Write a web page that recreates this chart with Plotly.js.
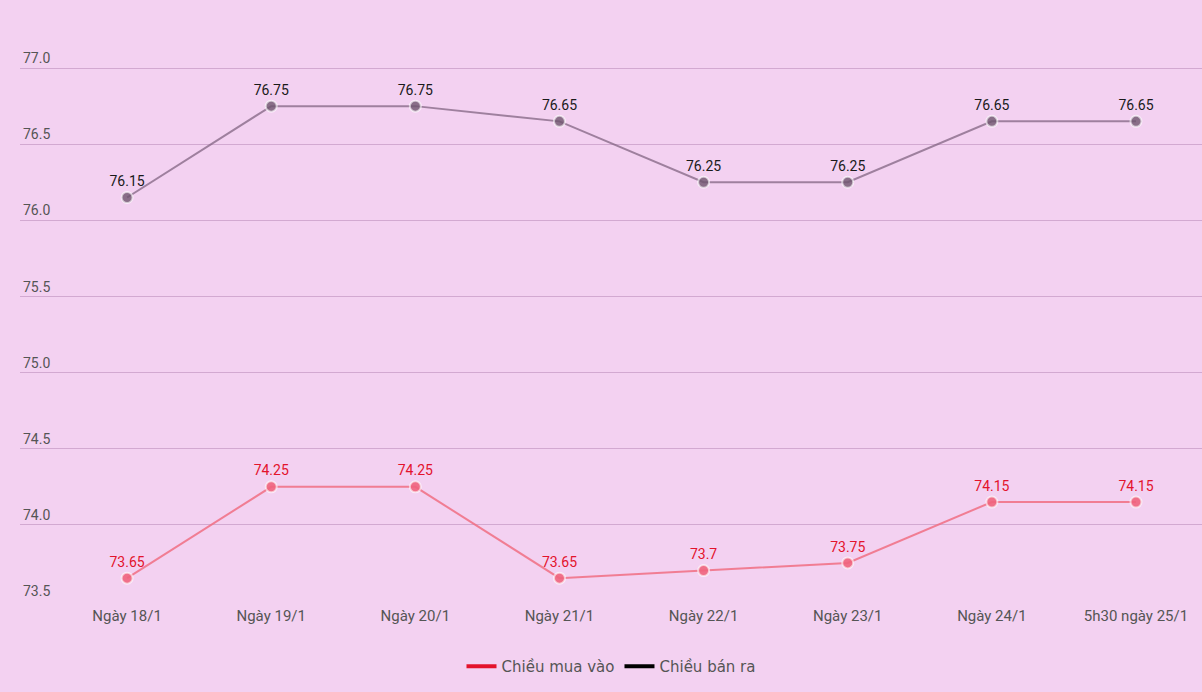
<!DOCTYPE html>
<html>
<head>
<meta charset="utf-8">
<script src="https://cdn.plot.ly/plotly-3.0.1.min.js"></script>
<style>html,body{margin:0;padding:0;background:#F3D1F1;}#chart{width:1202px;height:692px;}</style>
</head>
<body>
<div id="chart"></div>
<script>
const categories = ["Ngày 18/1", "Ngày 19/1", "Ngày 20/1", "Ngày 21/1", "Ngày 22/1", "Ngày 23/1", "Ngày 24/1", "5h30 ngày 25/1"];
const buyValues = [73.65, 74.25, 74.25, 73.65, 73.7, 73.75, 74.15, 74.15];
const sellValues = [76.15, 76.75, 76.75, 76.65, 76.25, 76.25, 76.65, 76.65];
const buyName = "Chiều mua vào";
const sellName = "Chiều bán ra";
const yTicks = [73.5, 74.0, 74.5, 75.0, 75.5, 76.0, 76.5, 77.0];

const labelFont = "Roboto, 'Noto Sans', sans-serif";

const traces = [
  {
    x: categories, y: buyValues, type: "scatter", mode: "lines+markers+text",
    text: buyValues.map(String), textposition: "top center",
    textfont: {family: labelFont, size: 14, color: "#E3132C"},
    line: {color: "rgba(240,110,130,0.85)", width: 2},
    marker: {size: 11, color: "rgba(240,100,125,0.9)", line: {color: "rgba(255,255,255,0.6)", width: 2}},
    showlegend: false, cliponaxis: false, hoverinfo: "x+y"
  },
  {
    x: categories, y: sellValues, type: "scatter", mode: "lines+markers+text",
    text: sellValues.map(String), textposition: "top center",
    textfont: {family: labelFont, size: 14, color: "#1a1a1a"},
    line: {color: "rgba(130,100,130,0.75)", width: 2},
    marker: {size: 11, color: "rgba(110,85,110,0.8)", line: {color: "rgba(255,255,255,0.6)", width: 2}},
    showlegend: false, cliponaxis: false, hoverinfo: "x+y"
  },
  {
    x: [null], y: [null], type: "scatter", mode: "lines", name: buyName,
    line: {color: "#E3132C", width: 4}, showlegend: true
  },
  {
    x: [null], y: [null], type: "scatter", mode: "lines", name: sellName,
    line: {color: "#000000", width: 4}, showlegend: true
  }
];

const layout = {
  width: 1202, height: 692,
  paper_bgcolor: "#F3D1F1", plot_bgcolor: "#F3D1F1",
  margin: {l: 20, r: 0, t: 30, b: 91},
  font: {family: labelFont, color: "#555555"},
  xaxis: {
    type: "category", range: [-0.743, 7.458],
    showgrid: false, zeroline: false, showline: false,
    ticks: "", ticklabelstandoff: 4,
    tickfont: {family: labelFont, size: 15, color: "#555555"},
    fixedrange: true
  },
  yaxis: {
    range: [73.5, 77.25], tickvals: yTicks,
    ticktext: yTicks.map(v => v.toFixed(1)),
    ticklabelposition: "inside top",
    showgrid: true, gridcolor: "rgba(170,120,170,0.45)", gridwidth: 1,
    zeroline: false, showline: false, ticks: "",
    tickfont: {family: labelFont, size: 14, color: "#555555"},
    fixedrange: true
  },
  legend: {
    orientation: "h", x: 0.5, xanchor: "center", y: -0.086, yanchor: "top",
    font: {family: "'DejaVu Sans', sans-serif", size: 15, color: "#555555"},
    bgcolor: "rgba(0,0,0,0)", itemwidth: 30, tracegroupgap: 0
  },
  showlegend: true
};

Plotly.newPlot("chart", traces, layout, {displayModeBar: false, staticPlot: true});
</script>
</body>
</html>
